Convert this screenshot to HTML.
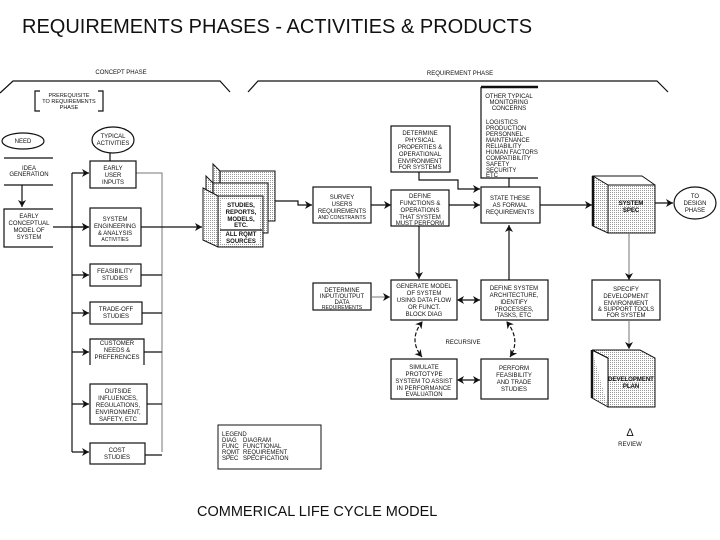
<!DOCTYPE html>
<html><head><meta charset="utf-8"><style>
html,body{margin:0;padding:0;background:#fff;}
svg{display:block;}
text{font-family:"Liberation Sans",sans-serif;fill:#111;}
.s{font-size:6px;text-anchor:middle;}
.b{fill:#fff;stroke:#111;stroke-width:1.2;}
.l{stroke:#111;stroke-width:1.2;fill:none;}
.g{stroke:#777;stroke-width:1;fill:none;}
</style></head><body>
<svg width="720" height="540" viewBox="0 0 720 540" xmlns="http://www.w3.org/2000/svg">
<defs>
<marker id="a" markerWidth="8" markerHeight="8" refX="7" refY="4" orient="auto" markerUnits="userSpaceOnUse"><path d="M0,0 L7,4 L0,8 L2,4 Z" fill="#111"/></marker>
<marker id="as" markerWidth="8" markerHeight="8" refX="1" refY="4" orient="auto" markerUnits="userSpaceOnUse"><path d="M7,0 L0,4 L7,8 L5,4 Z" fill="#111"/></marker>
<pattern id="dot" width="2" height="2" patternUnits="userSpaceOnUse"><rect width="2" height="2" fill="#fff"/><rect width="1" height="1" fill="#999"/></pattern>
</defs>
<text x="22" y="33" style="font-size:20px">REQUIREMENTS PHASES - ACTIVITIES &amp; PRODUCTS</text>
<text x="197" y="516" style="font-size:14.5px">COMMERICAL LIFE CYCLE MODEL</text>

<!-- phase brackets -->
<text x="121" y="74" class="s">CONCEPT PHASE</text>
<path class="l" d="M0,93 L13,81 L220,81 L230,92"/>
<text x="460" y="75" class="s">REQUIREMENT PHASE</text>
<path class="l" d="M248,92 L258,81 L657,81 L668,92"/>

<!-- prerequisite -->
<path class="l" d="M40,91 L35,91 L35,111 L40,111 M98,91 L103,91 L103,111 L98,111"/>
<text x="69" y="97" class="s" style="font-size:5.5px">PREREQUISITE</text>
<text x="69" y="103" class="s" style="font-size:5.5px">TO REQUIREMENTS</text>
<text x="69" y="109" class="s" style="font-size:5.5px">PHASE</text>

<!-- left column -->
<ellipse cx="23" cy="141" rx="21" ry="8" class="b"/>
<text x="23" y="143" class="s">NEED</text>
<path class="l" d="M4,158 L53,158 M53,185 L4,185"/>
<text x="29" y="170" class="s">IDEA</text><text x="29" y="176" class="s">GENERATION</text>
<path class="l" d="M22,185 L22,207" marker-end="url(#a)"/>
<path class="l" d="M53,209 L4,209 L4,247 L53,247"/>
<text x="29" y="218" class="s">EARLY</text><text x="29" y="225" class="s">CONCEPTUAL</text><text x="29" y="232" class="s">MODEL OF</text><text x="29" y="239" class="s">SYSTEM</text>
<path class="l" d="M53,227 L89,227" marker-end="url(#a)"/>

<ellipse cx="113" cy="140" rx="21" ry="13" class="b"/>
<text x="113" y="138" class="s">TYPICAL</text><text x="113" y="145" class="s">ACTIVITIES</text>
<path class="l" d="M110,153 L110,161"/>

<path class="l" d="M72,173 L72,452"/>
<path class="g" d="M136,173 L162,173 L162,452"/>
<rect x="90" y="161" width="46" height="27" class="b"/>
<text x="113" y="170" class="s">EARLY</text><text x="113" y="177" class="s">USER</text><text x="113" y="184" class="s">INPUTS</text>
<rect x="90" y="208" width="51" height="38" class="b"/>
<text x="115" y="221" class="s">SYSTEM</text><text x="115" y="228" class="s">ENGINEERING</text><text x="115" y="235" class="s">&amp; ANALYSIS</text><text x="115" y="241" class="s" style="font-size:5px">ACTIVITIES</text>
<rect x="90" y="264" width="51" height="22" class="b"/>
<text x="115" y="273" class="s">FEASIBILITY</text><text x="115" y="280" class="s">STUDIES</text>
<rect x="90" y="302" width="52" height="22" class="b"/>
<text x="116" y="311" class="s">TRADE-OFF</text><text x="116" y="318" class="s">STUDIES</text>
<path class="l" d="M144,365 L144,339 L90,339 L90,365"/>
<text x="117" y="345" class="s">CUSTOMER</text><text x="117" y="352" class="s">NEEDS &amp;</text><text x="117" y="359" class="s">PREFERENCES</text>
<rect x="90" y="384" width="57" height="40" class="b"/>
<text x="118" y="393" class="s">OUTSIDE</text><text x="118" y="400" class="s">INFLUENCES,</text><text x="118" y="407" class="s">REGULATIONS,</text><text x="118" y="414" class="s">ENVIRONMENT,</text><text x="118" y="421" class="s">SAFETY, ETC</text>
<rect x="90" y="443" width="55" height="21" class="b"/>
<text x="117" y="452" class="s">COST</text><text x="117" y="459" class="s">STUDIES</text>
<g class="l" marker-end="url(#a)">
<path d="M72,173 L89,173"/><path d="M72,227 L89,227"/><path d="M72,275 L89,275"/><path d="M72,313 L89,313"/><path d="M72,352 L89,352"/><path d="M72,404 L89,404"/><path d="M72,452 L89,452"/>
</g>
<g class="l"><path d="M141,275 L162,275"/><path d="M142,313 L162,313"/><path d="M144,352 L162,352"/><path d="M147,404 L162,404"/><path d="M145,455 L162,455"/></g>
<path class="l" d="M141,227 L202,227" marker-end="url(#a)"/>

<!-- stacked cubes -->
<g>
<path d="M213,164 L220,171 L275,171 L275,221 L228,221 L213,214 Z" fill="url(#dot)" stroke="#111"/>
<path d="M220,171 L220,221" class="l"/>
<path d="M206,176 L213,183 L268,183 L268,233 L221,233 L206,226 Z" fill="url(#dot)" stroke="#111"/>
<path d="M213,183 L213,233" class="l"/>
<path d="M203,188 L218,196 L263,196 L263,247 L218,247 L203,240 Z" fill="url(#dot)" stroke="#111"/>
<rect x="218" y="196" width="45" height="51" fill="url(#dot)" stroke="#111"/>
<rect x="222" y="200" width="38" height="44" fill="#fff"/>
<text x="241" y="207" class="s" style="font-weight:bold">STUDIES,</text><text x="241" y="214" class="s" style="font-weight:bold">REPORTS,</text><text x="241" y="221" class="s" style="font-weight:bold">MODELS,</text><text x="241" y="227" class="s" style="font-weight:bold">ETC.</text>
<path class="l" d="M220,230 L262,230"/>
<text x="241" y="236" class="s" style="font-weight:bold">ALL RQMT</text><text x="241" y="243" class="s" style="font-weight:bold">SOURCES</text>
</g>
<path class="l" d="M275,201 L298,201 L298,205 L312,205" marker-end="url(#a)"/>

<!-- requirement phase top row -->
<rect x="313" y="187" width="58" height="36" class="b"/>
<text x="342" y="199" class="s">SURVEY</text><text x="342" y="206" class="s">USERS</text><text x="342" y="213" class="s">REQUIREMENTS</text><text x="342" y="219" class="s" style="font-size:5px">AND CONSTRAINTS</text>
<path class="l" d="M371,205 L391,205" marker-end="url(#a)"/>
<rect x="391" y="190" width="58" height="36" class="b"/>
<text x="420" y="198" class="s">DEFINE</text><text x="420" y="205" class="s">FUNCTIONS &amp;</text><text x="420" y="212" class="s">OPERATIONS</text><text x="420" y="219" class="s">THAT SYSTEM</text><text x="420" y="225" class="s">MUST PERFORM</text>
<path class="l" d="M449,205 L480,205" marker-end="url(#a)"/>
<rect x="391" y="126" width="59" height="46" class="b"/>
<text x="420" y="135" class="s">DETERMINE</text><text x="420" y="142" class="s">PHYSICAL</text><text x="420" y="149" class="s">PROPERTIES &amp;</text><text x="420" y="156" class="s">OPERATIONAL</text><text x="420" y="163" class="s">ENVIRONMENT</text><text x="420" y="169" class="s">FOR SYSTEMS</text>
<path class="l" d="M419,172 L419,180 L458,180 L458,189 L480,189" marker-end="url(#a)"/>
<path class="l" d="M538,178 L481,178 L481,87"/>
<path d="M481,87 L538,87" stroke="#111" stroke-width="2.5"/>
<g style="font-size:6px">
<text x="509" y="98" class="s">OTHER TYPICAL</text><text x="509" y="104" class="s">MONITORING</text><text x="509" y="110" class="s">CONCERNS</text>
<text x="486" y="124">LOGISTICS</text><text x="486" y="130">PRODUCTION</text><text x="486" y="136">PERSONNEL</text><text x="486" y="142">MAINTENANCE</text><text x="486" y="148">RELIABILITY</text><text x="486" y="154">HUMAN FACTORS</text><text x="486" y="160">COMPATIBILITY</text><text x="486" y="166">SAFETY</text><text x="486" y="172">SECURITY</text><text x="486" y="177">ETC</text>
</g>
<path class="l" d="M509,178 L509,187"/>
<rect x="481" y="187" width="59" height="36" class="b"/>
<text x="510" y="200" class="s">STATE THESE</text><text x="510" y="207" class="s">AS FORMAL</text><text x="510" y="214" class="s">REQUIREMENTS</text>
<path class="l" d="M540,205 L592,205" marker-end="url(#a)"/>
<!-- system spec cube -->
<path d="M593,176 L608,185 L655,185 L655,233 L608,233 L593,226 Z" fill="url(#dot)" stroke="#111"/>
<path d="M593,176 L642,176 L655,185" fill="none" stroke="#111"/>
<path d="M593,176 L593,226" stroke="#111" stroke-width="2.5"/>
<rect x="608" y="185" width="47" height="48" fill="url(#dot)" stroke="#111"/>
<text x="631" y="205" class="s" style="font-weight:bold">SYSTEM</text><text x="631" y="212" class="s" style="font-weight:bold">SPEC</text>
<path class="l" d="M655,203 L673,203" marker-end="url(#a)"/>
<ellipse cx="695" cy="203" rx="21" ry="16" class="b"/>
<text x="695" y="198" class="s">TO</text><text x="695" y="205" class="s">DESIGN</text><text x="695" y="212" class="s">PHASE</text>
<path class="g" d="M629,233 L629,280" marker-end="url(#a)"/>

<!-- lower rows -->
<path class="l" d="M419,226 L419,279" marker-end="url(#a)"/>
<path class="l" d="M509,280 L509,225" marker-end="url(#a)"/>
<rect x="313" y="283" width="58" height="27" class="b"/>
<text x="342" y="292" class="s">DETERMINE</text><text x="342" y="298" class="s">INPUT/OUTPUT</text><text x="342" y="304" class="s">DATA</text><text x="342" y="309" class="s" style="font-size:5px">REQUIREMENTS</text>
<path class="g" d="M371,297 L390,297" marker-end="url(#a)"/>
<rect x="391" y="280" width="66" height="40" class="b"/>
<text x="424" y="288" class="s">GENERATE MODEL</text><text x="424" y="295" class="s">OF SYSTEM</text><text x="424" y="302" class="s">USING DATA FLOW</text><text x="424" y="309" class="s">OR FUNCT.</text><text x="424" y="316" class="s">BLOCK DIAG</text>
<path class="l" d="M458,300 L480,300" marker-start="url(#as)" marker-end="url(#a)"/>
<rect x="481" y="280" width="67" height="40" class="b"/>
<text x="514" y="290" class="s">DEFINE SYSTEM</text><text x="514" y="297" class="s">ARCHITECTURE,</text><text x="514" y="304" class="s">IDENTIFY</text><text x="514" y="311" class="s">PROCESSES,</text><text x="514" y="317" class="s">TASKS, ETC</text>
<rect x="592" y="280" width="68" height="40" class="b"/>
<text x="626" y="291" class="s">SPECIFY</text><text x="626" y="298" class="s">DEVELOPMENT</text><text x="626" y="305" class="s">ENVIRONMENT</text><text x="626" y="311" class="s">&amp; SUPPORT TOOLS</text><text x="626" y="317" class="s">FOR SYSTEM</text>
<path class="g" d="M629,320 L629,349" marker-end="url(#a)"/>

<path class="l" d="M422,322 Q408,340 422,357" stroke-dasharray="4,2" marker-start="url(#as)" marker-end="url(#a)"/>
<path class="l" d="M507,322 Q521,340 510,357" stroke-dasharray="4,2" marker-start="url(#as)" marker-end="url(#a)"/>
<text x="463" y="344" class="s">RECURSIVE</text>
<rect x="391" y="359" width="66" height="40" class="b"/>
<text x="424" y="369" class="s">SIMULATE</text><text x="424" y="376" class="s">PROTOTYPE</text><text x="424" y="383" class="s">SYSTEM TO ASSIST</text><text x="424" y="390" class="s">IN PERFORMANCE</text><text x="424" y="396" class="s">EVALUATION</text>
<path class="l" d="M458,380 L480,380" marker-start="url(#as)" marker-end="url(#a)"/>
<rect x="481" y="359" width="67" height="40" class="b"/>
<text x="514" y="370" class="s">PERFORM</text><text x="514" y="377" class="s">FEASIBILITY</text><text x="514" y="384" class="s">AND TRADE</text><text x="514" y="391" class="s">STUDIES</text>

<!-- dev plan cube -->
<path d="M592,350 L640,350 L655,358 L655,407 L608,407 L608,358 Z" fill="url(#dot)" stroke="#111"/>
<path d="M592,350 L592,398 L608,407" fill="url(#dot)" stroke="#111"/>
<path d="M592,350 L592,398" stroke="#111" stroke-width="2.5"/>
<path d="M592,350 L608,358 L608,407" fill="none" stroke="#111"/>
<text x="631" y="381" class="s" style="font-weight:bold">DEVELOPMENT</text><text x="631" y="388" class="s" style="font-weight:bold">PLAN</text>
<text x="630" y="436" class="s" style="font-size:11px">Δ</text>
<text x="630" y="446" class="s">REVIEW</text>

<!-- legend -->
<rect x="218" y="425" width="103" height="44" class="b" style="stroke-width:1"/>
<g style="font-size:6px">
<text x="222" y="436">LEGEND</text>
<text x="222" y="442">DIAG</text><text x="243" y="442">DIAGRAM</text>
<text x="222" y="448">FUNC</text><text x="243" y="448">FUNCTIONAL</text>
<text x="222" y="454">RQMT</text><text x="243" y="454">REQUIREMENT</text>
<text x="222" y="460">SPEC</text><text x="243" y="460">SPECIFICATION</text>
</g>
</svg>
</body></html>
